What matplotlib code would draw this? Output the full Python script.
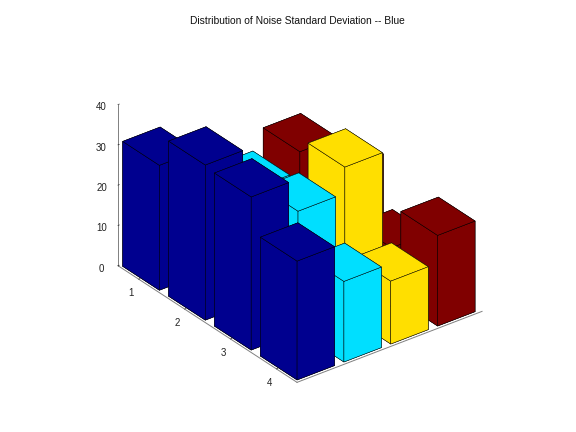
import numpy as np
import matplotlib
matplotlib.use('Agg')
import matplotlib.pyplot as plt

plt.rcParams['font.family'] = ['Liberation Sans', 'DejaVu Sans']

# bar heights, one list per colour (row 1..4)
navy = [31, 38.5, 38, 29.5]
cyan = [20, 28, 30, 20]
yellow = [12, 15, 36.5, 15.6]
red = [21, 24.3, 12, 22.5]
colors = ['#00008f', '#00dfff', '#ffdf00', '#800000']
rows = [1, 2, 3, 4]
z_ticks = [0, 10, 20, 30, 40]
title = 'Distribution of Noise Standard Deviation -- Blue'

series = [navy, cyan, yellow, red]

fig = plt.figure(figsize=(5.76, 4.32), dpi=100)
ax = fig.add_axes([89.5/576, 13.5/432, 410/576, 410/432], projection='3d')
ax.computed_zorder = False
ax.set_proj_type('ortho')
ax.view_init(elev=30, azim=-37.5)

xr = (0.55, 4.45)
yr = (0.55, 4.5)
zr = (0, 40)
aspect = np.array([(xr[1]-xr[0])*75.6, (yr[1]-yr[0])*59.2, 40*4.665])
ax.set_box_aspect(aspect, zoom=np.linalg.norm(aspect)/(400*1.0587))

# painter order, far bars first
z = 2
for i in range(4):
    for j in range(3, -1, -1):
        ax.bar3d(rows[i]-0.4, j+1-0.4, 0, 0.8, 0.8, series[j][i], color=colors[j],
                 shade=False, edgecolor='black', linewidth=0.35, zorder=z)
        z += 1

ax.set_xlim(xr)
ax.set_ylim(yr)
ax.set_zlim(zr)
ax.set_xticks(rows)
ax.set_yticks([])
ax.set_zticks(z_ticks)
ax.grid(False)
for a in (ax.xaxis, ax.yaxis, ax.zaxis):
    a.pane.set_visible(False)
    a.line.set_color('#808080')
    a.line.set_linewidth(0.7)
    a._axinfo['tick']['inward_factor'] = 0
    a._axinfo['tick']['outward_factor'] = 0.08
    a._axinfo['tick']['linewidth'] = {True: 0.5, False: 0.5}
    a._axinfo['tick']['color'] = '#808080'
ax.zaxis.set_ticks_position('lower')
ax.tick_params(axis='both', labelsize=7, colors='#222222', pad=-2)
ax.tick_params(axis='z', labelsize=7, colors='#222222', pad=-1)

fig.text(297/576, 1-21/432, title, fontsize=7.4, ha='center', va='center', color='#111111')
fig.savefig('out.png', dpi=100)
